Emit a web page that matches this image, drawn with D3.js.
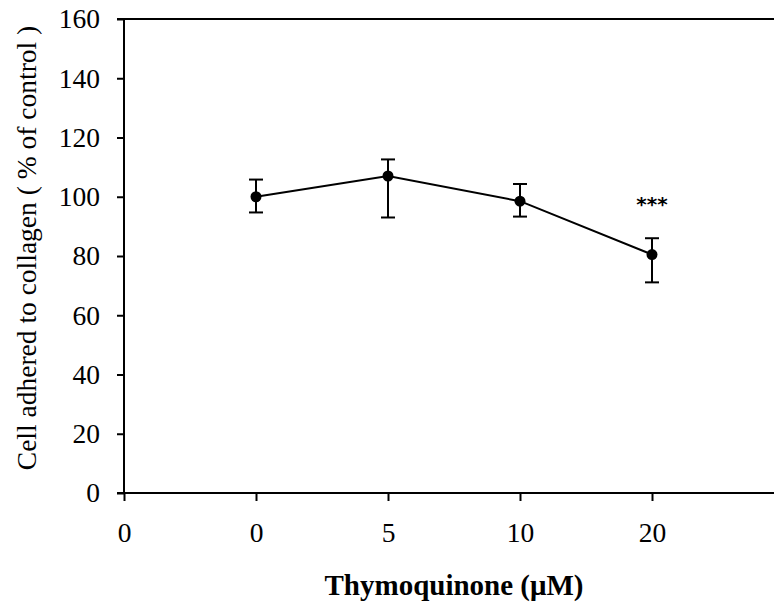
<!DOCTYPE html>
<html>
<head>
<meta charset="utf-8">
<script src="https://cdn.jsdelivr.net/npm/d3@7"></script>
<style>
  body { margin: 0; background: #fff; }
  text { font-family: "Liberation Serif", "Times New Roman", serif; fill: #000; }
</style>
</head>
<body>
<div id="chart"></div>
<script>
// tick labels along x (first one sits at the origin)
var xLabels = ['0', '0', '5', '10', '20'];
// dose groups with data
var doses = ['0', '5', '10', '20'];
var means = [100, 107, 98.5, 80.5];
var upper = [105.8, 112.6, 104.3, 86];
var lower = [94.7, 93, 93.3, 71.1];
var stars = ['', '', '', '***'];
var yTicks = [0, 20, 40, 60, 80, 100, 120, 140, 160];

var W = 774, H = 607;
var svg = d3.select('#chart').append('svg')
    .attr('width', W)
    .attr('height', H);

var x = d3.scaleLinear().domain([0, 4]).range([124, 652]);
var y = d3.scaleLinear().domain([0, 160]).range([493, 19]);

// axes
var yAxis = svg.append('g')
    .attr('transform', 'translate(124,0)')
    .call(d3.axisLeft(y).tickValues(yTicks).tickSize(7).tickPadding(17));

var xAxis = svg.append('g')
    .attr('transform', 'translate(0,493)')
    .call(d3.axisBottom(x).tickValues(d3.range(xLabels.length))
        .tickFormat(function (d) { return xLabels[d]; })
        .tickSize(8).tickPadding(21));

[yAxis, xAxis].forEach(function (g) {
    g.select('.domain').remove();
    g.attr('font-family', null).attr('font-size', null);
    g.selectAll('line').attr('stroke', '#000').attr('stroke-width', 2);
    g.selectAll('text').style('font-size', '27.5px').style('font-family', '"Liberation Serif", serif');
});

// frame: left, bottom and top lines
svg.append('line').attr('x1', 124).attr('x2', 124).attr('y1', 19).attr('y2', 493)
    .attr('stroke', '#000').attr('stroke-width', 2);
svg.append('line').attr('x1', 117).attr('x2', W).attr('y1', 493).attr('y2', 493)
    .attr('stroke', '#000').attr('stroke-width', 2);
svg.append('line').attr('x1', 117).attr('x2', W).attr('y1', 19).attr('y2', 19)
    .attr('stroke', '#000').attr('stroke-width', 2);

var pts = doses.map(function (d, i) {
    return { i: i + 1, m: means[i], hi: upper[i], lo: lower[i], s: stars[i] };
});

// error bars
var eb = svg.append('g').selectAll('g').data(pts).enter().append('g');
eb.append('line')
    .attr('x1', function (d) { return x(d.i); })
    .attr('x2', function (d) { return x(d.i); })
    .attr('y1', function (d) { return y(d.hi); })
    .attr('y2', function (d) { return y(d.lo); })
    .attr('stroke', '#000').attr('stroke-width', 2);
['hi', 'lo'].forEach(function (k) {
    eb.append('line')
        .attr('x1', function (d) { return x(d.i) - 7; })
        .attr('x2', function (d) { return x(d.i) + 7; })
        .attr('y1', function (d) { return y(d[k]); })
        .attr('y2', function (d) { return y(d[k]); })
        .attr('stroke', '#000').attr('stroke-width', 2);
});

// line
svg.append('path')
    .datum(pts)
    .attr('fill', 'none')
    .attr('stroke', '#000')
    .attr('stroke-width', 2)
    .attr('d', d3.line()
        .x(function (d) { return x(d.i); })
        .y(function (d) { return y(d.m); }));

// markers
svg.append('g').selectAll('circle').data(pts).enter().append('circle')
    .attr('cx', function (d) { return x(d.i); })
    .attr('cy', function (d) { return y(d.m); })
    .attr('r', 5.5)
    .attr('fill', '#000');

// significance stars
svg.append('g').selectAll('text').data(pts).enter().append('text')
    .attr('x', function (d) { return x(d.i); })
    .attr('y', function (d) { return y(d.hi) - 27; })
    .attr('text-anchor', 'middle')
    .style('font-family', '"DejaVu Sans", Arial, sans-serif')
    .style('font-size', '20px')
    .style('font-weight', 'bold')
    .text(function (d) { return d.s; });

// axis titles
svg.append('text')
    .attr('x', 454)
    .attr('y', 595)
    .attr('text-anchor', 'middle')
    .style('font-size', '29px')
    .style('font-weight', 'bold')
    .text('Thymoquinone (\u03bcM)');

svg.append('text')
    .attr('transform', 'translate(36,248) rotate(-90)')
    .attr('text-anchor', 'middle')
    .style('font-size', '27.5px')
    .text('Cell adhered to collagen ( % of control )');
</script>
</body>
</html>
